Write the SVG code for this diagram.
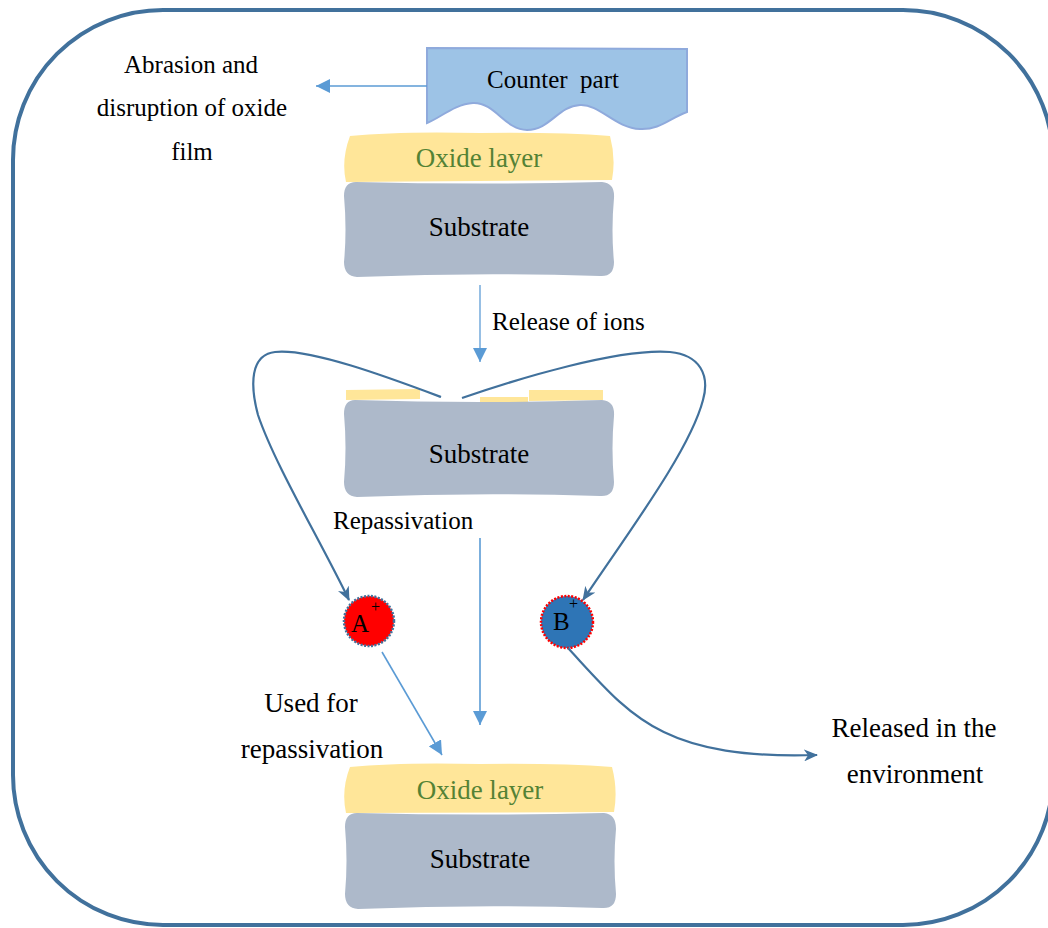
<svg xmlns="http://www.w3.org/2000/svg" width="1048" height="928" viewBox="0 0 1048 928">
<style>
text{font-family:"Liberation Serif","Times New Roman",serif;fill:#000}
.lbl{font-size:25px}
.big{font-size:27px}
.ox{fill:#FFE699}
.sub{fill:#ADB9CA}
.oxt{font-size:27px;fill:#548235}
.lb{stroke:#5B9BD5;stroke-width:1.6;fill:none}
.db{stroke:#41719C;stroke-width:2.2;fill:none}
</style>
<defs>
<marker id="tri" viewBox="0 0 14 14" refX="14" refY="7" markerWidth="14" markerHeight="14" markerUnits="userSpaceOnUse" orient="auto">
<path d="M0,0 L14,7 L0,14 Z" fill="#5B9BD5"/>
</marker>
<marker id="stl" viewBox="0 0 14 12" refX="13" refY="6" markerWidth="14" markerHeight="12" markerUnits="userSpaceOnUse" orient="auto">
<path d="M0,0 L14,6 L0,12 L4,6 Z" fill="#41719C"/>
</marker>
</defs>

<rect id="frame" x="13" y="10" width="1040" height="915" rx="150" ry="150" fill="none" stroke="#41719C" stroke-width="4"/>

<g id="counterpart">
<path d="M427,48 L687,49 L687,112 C 670,118 660,130 640,129 C 615,128 600,104 580,105 C 558,106 550,130 527,130 C 505,130 495,102 473,103 C 455,104 440,118 427,123 Z" fill="#9DC3E6" stroke="#8FAADC" stroke-width="2"/>
<text class="lbl" x="553" y="88" text-anchor="middle" xml:space="preserve">Counter  part</text>
</g>

<g id="abrasion-label">
<text class="lbl" x="191" y="73" text-anchor="middle">Abrasion and</text>
<text class="lbl" x="192" y="116" text-anchor="middle">disruption of oxide</text>
<text class="lbl" x="192" y="160" text-anchor="middle">film</text>
</g>

<g id="top-stack">
<path class="ox" d="M350,136 Q 400,131 480,133 Q 560,132 610,136 Q 616,158 612,180 L 346,182 Q 341,160 350,136 Z"/>
<path class="sub" d="M356,182 Q 480,185 602,182 Q 615,183 614,198 Q 611,230 614,262 Q 614,277 600,276 Q 480,272 357,277 Q 344,276 344,262 Q 347,230 344,196 Q 344,182 356,182 Z"/>
<text class="oxt" x="479" y="167" text-anchor="middle">Oxide layer</text>
<text class="big" x="479" y="236" text-anchor="middle">Substrate</text>
</g>

<g id="release-label">
<text class="lbl" x="492" y="330">Release of ions</text>
</g>

<g id="middle-stack">
<path class="ox" d="M346,390 L420,389 L420,399 L346,400 Z"/>
<path class="ox" d="M480,397 L528,397 L528,403 L480,403 Z"/>
<path class="ox" d="M529,390 L603,390 L603,400 L529,401 Z"/>
<path class="sub" d="M355,400 Q 480,404 602,400 Q 615,401 614,416 Q 611,448 614,482 Q 614,497 600,496 Q 480,492 357,497 Q 344,496 344,482 Q 347,448 344,414 Q 344,400 355,400 Z"/>
<text class="big" x="479" y="463" text-anchor="middle">Substrate</text>
</g>

<g id="repassivation-label">
<text class="lbl" x="333" y="529">Repassivation</text>
</g>

<g id="ion-A">
<circle cx="369" cy="621" r="25" fill="#FF0000" stroke="#41719C" stroke-width="2.5" stroke-dasharray="2 1.5"/>
<text class="lbl" x="351" y="632">A</text>
<text x="371" y="612" style="font-size:16px">+</text>
</g>

<g id="ion-B">
<circle cx="567" cy="622" r="26" fill="#2E75B6" stroke="#FF0000" stroke-width="2.5" stroke-dasharray="2 1.5"/>
<text class="lbl" x="553" y="630">B</text>
<text x="569" y="609" style="font-size:16px">+</text>
</g>

<g id="used-label">
<text class="big" x="311" y="712" text-anchor="middle">Used for</text>
<text class="big" x="312" y="758" text-anchor="middle">repassivation</text>
</g>

<g id="released-label">
<text class="big" x="914" y="737" text-anchor="middle">Released in the</text>
<text class="big" x="915" y="783" text-anchor="middle">environment</text>
</g>

<g id="bottom-stack">
<path class="ox" d="M350,767 Q 400,762 480,764 Q 560,763 612,767 Q 618,790 614,812 L 346,813 Q 341,790 350,767 Z"/>
<path class="sub" d="M357,813 Q 480,816 604,813 Q 616,814 616,829 Q 613,861 616,894 Q 616,909 602,908 Q 480,904 358,909 Q 345,908 345,894 Q 348,861 345,827 Q 345,813 357,813 Z"/>
<text class="oxt" x="480" y="799" text-anchor="middle">Oxide layer</text>
<text class="big" x="480" y="868" text-anchor="middle">Substrate</text>
</g>

<g id="connectors">
<line class="lb" x1="427" y1="86" x2="316" y2="86" marker-end="url(#tri)"/>
<line class="lb" x1="480" y1="285" x2="480" y2="362" stroke-opacity="0.8" marker-end="url(#tri)"/>
<line class="lb" x1="480" y1="538" x2="480" y2="725" marker-end="url(#tri)"/>
<line class="lb" x1="382" y1="652" x2="442" y2="755" marker-end="url(#tri)"/>
<path class="db" d="M441,397 C 390,378 310,348 275,352 C 250,355 250,385 258,415 C 275,465 320,540 349,600" marker-end="url(#stl)"/>
<path class="db" d="M462,398 C 520,378 620,348 670,352 C 700,355 710,375 703,400 C 690,450 630,530 583,600" marker-end="url(#stl)"/>
<path class="db" d="M568,648 C 630,715 660,760 817,755" marker-end="url(#stl)"/>
</g>
</svg>
